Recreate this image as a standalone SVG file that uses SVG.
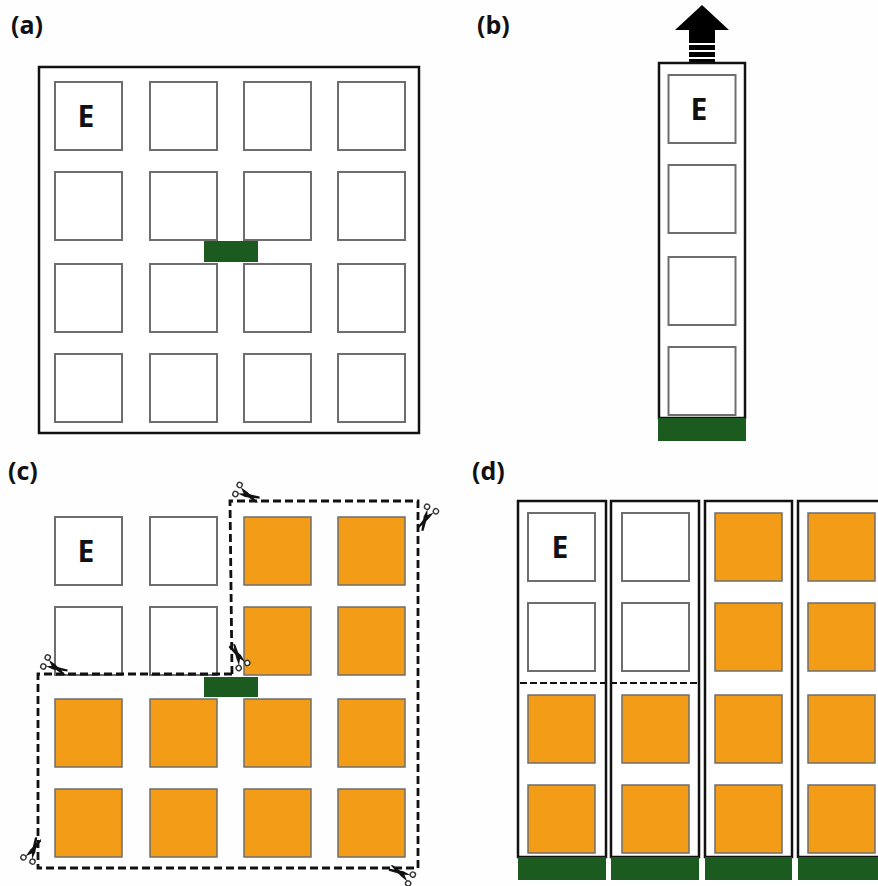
<svg xmlns="http://www.w3.org/2000/svg" width="878" height="886" viewBox="0 0 878 886">
<style>
.o{fill:#fff;stroke:#111;stroke-width:2.5}
.s{fill:#fff;stroke:#6e6e6e;stroke-width:2}
.f{fill:#f39c17;stroke:#6e6e6e;stroke-width:1.5}
.g{fill:#1c5b20}
.d{fill:none;stroke:#111;stroke-width:2.8;stroke-dasharray:8 4}
.d2{fill:none;stroke:#111;stroke-width:2;stroke-dasharray:7 3}
.l{font-family:"Open Sans","Liberation Sans",sans-serif;font-weight:700;font-size:25px;fill:#111}
.e{font-family:"Open Sans","Liberation Sans",sans-serif;font-weight:700;font-size:30px;fill:#111;text-anchor:middle}
</style>
<defs>
<g id="sc">
<circle cx="0" cy="-5" r="2.6" fill="#fff" stroke="#333" stroke-width="1.4"/>
<circle cx="0" cy="5" r="2.6" fill="#fff" stroke="#333" stroke-width="1.4"/>
<path d="M2,-3.500 L10,-2 L24,2.800 L22,4 L8,1.500 Z" fill="#111"/>
<path d="M2,3.500 L9,0 L23,-3 L24,-1 L10,3.500 Z" fill="#111"/>
</g>
<rect id="w" class="s" width="67" height="68"/>
<rect id="y" class="f" width="67" height="68"/>
</defs>
<rect width="878" height="886" fill="#fefefe"/>
<g id="panel-a">
<text class="l" x="11" y="34">(a)</text>
<rect class="o" x="39" y="67" width="380" height="366"/>
<g id="a-squares">
<use href="#w" x="55" y="82"/><use href="#w" x="150" y="82"/><use href="#w" x="244" y="82"/><use href="#w" x="338" y="82"/>
<use href="#w" x="55" y="172"/><use href="#w" x="150" y="172"/><use href="#w" x="244" y="172"/><use href="#w" x="338" y="172"/>
<use href="#w" x="55" y="264"/><use href="#w" x="150" y="264"/><use href="#w" x="244" y="264"/><use href="#w" x="338" y="264"/>
<use href="#w" x="55" y="354"/><use href="#w" x="150" y="354"/><use href="#w" x="244" y="354"/><use href="#w" x="338" y="354"/>
</g>
<text class="e" x="86" y="127">E</text>
<rect class="g" x="204" y="241" width="54" height="21"/>
</g>
<g id="panel-b">
<text class="l" x="477" y="34">(b)</text>
<path d="M702,5 L729,30 L715,30 L715,43 L689,43 L689,30 L675,30 Z" fill="#000"/>
<rect x="689" y="45" width="26" height="5" fill="#000"/>
<rect x="689" y="52" width="26" height="5" fill="#000"/>
<rect x="689" y="59" width="26" height="4" fill="#000"/>
<rect class="o" x="659" y="63" width="86" height="355"/>
<use href="#w" x="668.500" y="75"/><use href="#w" x="668.500" y="165"/><use href="#w" x="668.500" y="257"/><use href="#w" x="668.500" y="347"/>
<text class="e" x="699" y="120">E</text>
<rect class="g" x="658" y="418" width="88" height="23"/>
</g>
<g id="panel-c">
<text class="l" x="8" y="480">(c)</text>
<use href="#w" x="55" y="517"/><use href="#w" x="150" y="517"/><use href="#y" x="244" y="517"/><use href="#y" x="338" y="517"/>
<use href="#w" x="55" y="607"/><use href="#w" x="150" y="607"/><use href="#y" x="244" y="607"/><use href="#y" x="338" y="607"/>
<use href="#y" x="55" y="699"/><use href="#y" x="150" y="699"/><use href="#y" x="244" y="699"/><use href="#y" x="338" y="699"/>
<use href="#y" x="55" y="789"/><use href="#y" x="150" y="789"/><use href="#y" x="244" y="789"/><use href="#y" x="338" y="789"/>
<text class="e" x="86" y="562">E</text>
<rect class="g" x="204" y="677" width="54" height="20"/>
<path class="d" d="M232,674 L230,501 L418,501 L418,868 L38,868 L38,674 Z"/>
<use href="#sc" transform="translate(237.500,489.500) rotate(25)"/>
<use href="#sc" transform="translate(431.500,509) rotate(117.500)"/>
<use href="#sc" transform="translate(243,665.500) rotate(-120.700)"/>
<use href="#sc" transform="translate(45.500,662) rotate(26)"/>
<use href="#sc" transform="translate(28,859.500) rotate(-65)"/>
<use href="#sc" transform="translate(410.500,879) rotate(-152)"/>
</g>
<g id="panel-d">
<text class="l" x="472" y="480">(d)</text>
<rect class="o" x="518" y="501" width="88" height="356"/>
<rect class="o" x="611" y="501" width="88" height="356"/>
<rect class="o" x="705" y="501" width="87" height="356"/>
<rect class="o" x="798" y="501" width="87" height="356"/>
<use href="#w" x="528" y="513"/><use href="#w" x="622" y="513"/><use href="#y" x="715" y="513"/><use href="#y" x="808" y="513"/>
<use href="#w" x="528" y="603"/><use href="#w" x="622" y="603"/><use href="#y" x="715" y="603"/><use href="#y" x="808" y="603"/>
<use href="#y" x="528" y="695"/><use href="#y" x="622" y="695"/><use href="#y" x="715" y="695"/><use href="#y" x="808" y="695"/>
<use href="#y" x="528" y="785"/><use href="#y" x="622" y="785"/><use href="#y" x="715" y="785"/><use href="#y" x="808" y="785"/>
<text class="e" x="560" y="558">E</text>
<path class="d2" d="M520,683 L697,683"/>
<rect class="g" x="518" y="857" width="88" height="23"/>
<rect class="g" x="611" y="857" width="88" height="23"/>
<rect class="g" x="705" y="857" width="87" height="23"/>
<rect class="g" x="798" y="857" width="80" height="23"/>
</g>
</svg>
